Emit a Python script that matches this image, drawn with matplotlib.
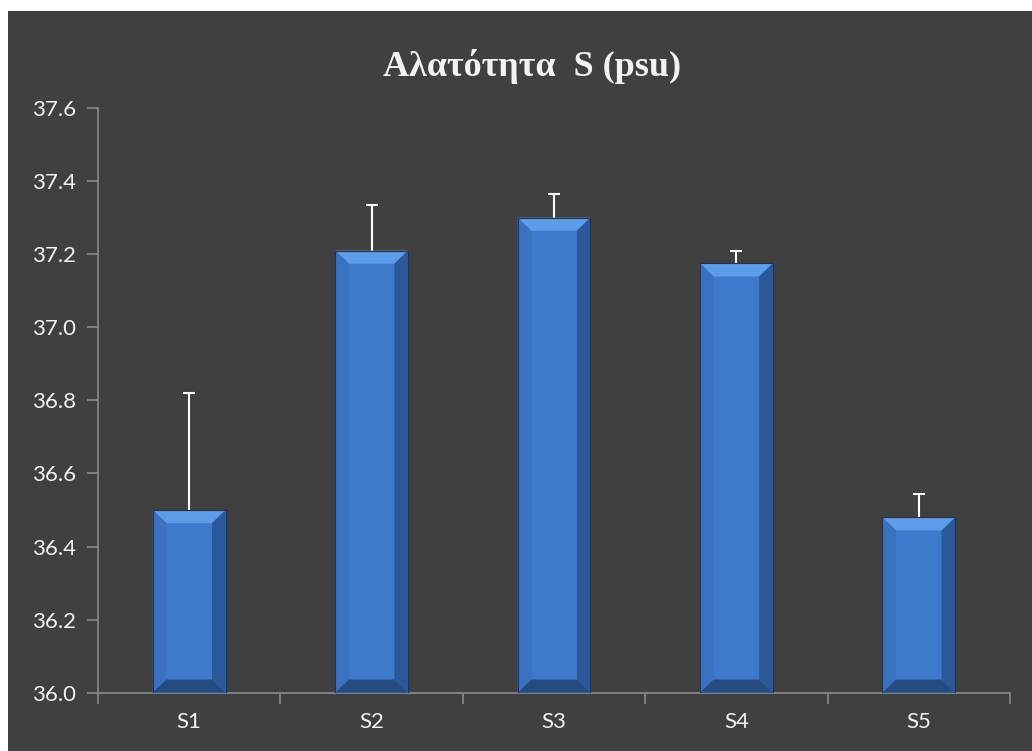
import numpy as np
import matplotlib.pyplot as plt
from matplotlib.patches import Rectangle, Polygon

stations = ["S1", "S2", "S3", "S4", "S5"]
salinity = [36.50, 37.21, 37.30, 37.175, 36.48]
err_up = [0.32, 0.125, 0.066, 0.033, 0.063]

title = "Αλατότητα  S (psu)"
y0, y1 = 36.0, 37.6

bg = "#404040"
fig = plt.figure(figsize=(10.32, 7.51), dpi=100)
fig.patch.set_facecolor("white")
fig.patches.append(Rectangle((8 / 1032, 0), 1, (751 - 11) / 751,
                             transform=fig.transFigure, facecolor=bg,
                             edgecolor="none", zorder=-5))

ax = fig.add_axes([98 / 1032, (751 - 692.7) / 751,
                   (1010 - 98) / 1032, (692.7 - 108) / 751])
ax.patch.set_alpha(0)

x = np.arange(len(stations))
vals = np.array(salinity)
bars = ax.bar(x, vals - y0, bottom=y0, width=0.40, color="#3d7acc",
              edgecolor="#1c355c", linewidth=0.8, zorder=2)

# error bars (upper only), behind the bars
eb = ax.errorbar(x, vals, yerr=[np.zeros(len(x)), err_up], fmt="none",
                 ecolor="white", elinewidth=1.5, capsize=4.5, capthick=1.5,
                 zorder=1)
eb[1][0].set_visible(False)  # no cap at the bar top

ax.set_xlim(-0.5, 4.5)
ax.set_ylim(y0, y1)

# bevel effect
dx, dy = 0.075, 0.036
for b in bars:
    bx, bw = b.get_x(), b.get_width()
    by, bh = b.get_y(), b.get_height()
    L, R, B, T = bx, bx + bw, by, by + bh
    faces = [
        ([(L, T), (R, T), (R - dx, T - dy), (L + dx, T - dy)], "#5c9ce8"),
        ([(L, B), (L, T), (L + dx, T - dy), (L + dx, B + dy)], "#3a72c0"),
        ([(R, B), (R, T), (R - dx, T - dy), (R - dx, B + dy)], "#2b5899"),
        ([(L, B), (R, B), (R - dx, B + dy), (L + dx, B + dy)], "#264b80"),
    ]
    for pts, c in faces:
        ax.add_patch(Polygon(pts, closed=True, facecolor=c, edgecolor="none",
                             zorder=3))
    ax.add_patch(Rectangle((L, B), bw, bh, facecolor="none",
                           edgecolor="#1c355c", linewidth=0.8, zorder=4))

for s in ["top", "right"]:
    ax.spines[s].set_visible(False)
for s in ["left", "bottom"]:
    ax.spines[s].set_color("#8c8c8c")
    ax.spines[s].set_linewidth(1.2)

ax.set_yticks(np.arange(36.0, 37.61, 0.2))
ax.set_yticklabels([f"{v:.1f}" for v in np.arange(36.0, 37.61, 0.2)])
ax.set_xticks(x)
ax.set_xticklabels(stations)
ax.set_xticks(np.arange(-0.5, 4.6, 1), minor=True)
ax.tick_params(axis="x", which="major", length=0, pad=14)
ax.tick_params(axis="x", which="minor", length=8, width=1.2, color="#8c8c8c")
ax.tick_params(axis="y", length=8, width=1.2, color="#8c8c8c", pad=8)
for lab in ax.get_xticklabels() + ax.get_yticklabels():
    lab.set_fontfamily("Lato")
    lab.set_fontsize(16)
    lab.set_color("#f2f2f2")

fig.text(532 / 1032, (751 - 67) / 751, title, ha="center", va="center",
         fontfamily="Liberation Serif", fontweight="bold", fontsize=26,
         color="#f2f2f2")

fig.savefig("out.png", dpi=100, facecolor=fig.get_facecolor())
